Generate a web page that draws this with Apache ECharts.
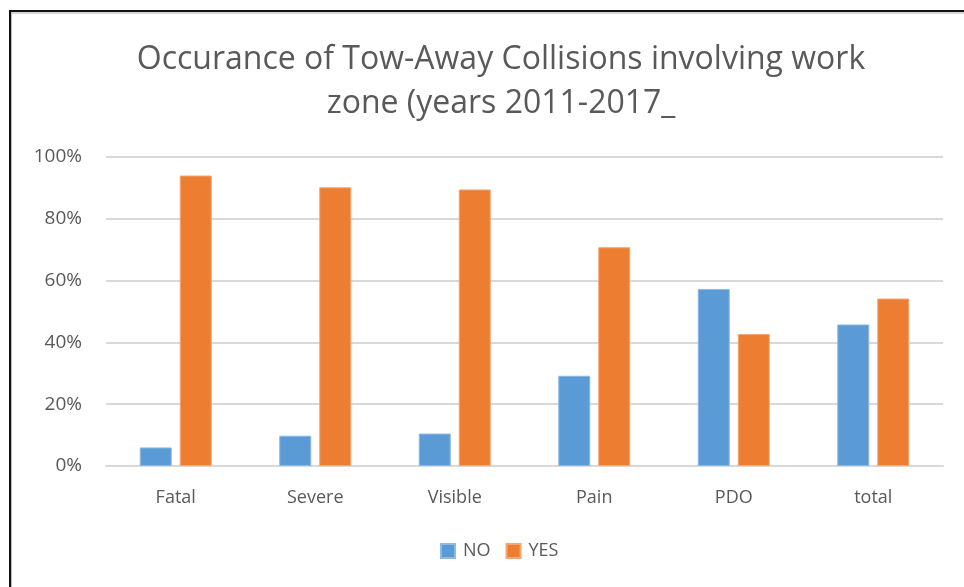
<!DOCTYPE html>
<html>
<head>
<meta charset="utf-8">
<script src="https://cdn.jsdelivr.net/npm/echarts@6/dist/echarts.min.js"></script>
<style>
html,body{margin:0;padding:0;background:#fff;}
#chart{width:964px;height:587px;}
</style>
</head>
<body>
<div id="chart"></div>
<script>
const categories = ['Fatal', 'Severe', 'Visible', 'Pain', 'PDO', 'total'];
const noValues = [6.0, 9.8, 10.5, 29.2, 57.3, 45.8];
const yesValues = [94.0, 90.2, 89.5, 70.8, 42.7, 54.2];
const yTicks = [0, 20, 40, 60, 80, 100];

const FONT = '"Open Sans"';
const GREY = '#595959';

const chart = echarts.init(document.getElementById('chart'));
chart.setOption({
  backgroundColor: '#fff',
  animation: false,
  title: {
    text: 'Occurance of Tow-Away Collisions involving work\nzone (years 2011-2017_',
    left: 496,
    top: 33,
    textAlign: 'center',
    textStyle: { fontFamily: FONT, fontSize: 32, fontWeight: 'normal', color: GREY, lineHeight: 44 }
  },
  legend: {
    data: ['NO', 'YES'],
    bottom: 22,
    left: 435,
    icon: 'rect',
    itemWidth: 14,
    itemHeight: 14,
    itemGap: 15,
    textStyle: { fontFamily: FONT, fontSize: 18, color: GREY, padding: [0, 0, 0, 3] }
  },
  grid: { left: 106, right: 21, top: 157, bottom: 121 },
  xAxis: {
    type: 'category',
    data: categories,
    axisLine: { lineStyle: { color: '#d9d9d9', width: 2 } },
    axisTick: { show: false },
    axisLabel: { fontFamily: FONT, fontSize: 18, color: GREY, margin: 23 }
  },
  yAxis: {
    type: 'value',
    min: yTicks[0],
    max: yTicks[yTicks.length - 1],
    interval: 20,
    axisLine: { show: false },
    axisTick: { show: false },
    splitLine: { lineStyle: { color: '#d9d9d9', width: 2 } },
    axisLabel: { fontFamily: FONT, fontSize: 19, color: GREY, margin: 24, formatter: v => v + '%' }
  },
  series: [
    { name: 'NO', type: 'bar', data: noValues, barWidth: 32, barGap: '25%',
      itemStyle: { color: '#5B9BD5', borderColor: '#8DB9E4', borderWidth: 1 } },
    { name: 'YES', type: 'bar', data: yesValues, barWidth: 32,
      itemStyle: { color: '#ED7D31', borderColor: '#F4A673', borderWidth: 1 } }
  ],
  graphic: [
    { type: 'rect', shape: { x: 10, y: 10, width: 954, height: 2 }, style: { fill: '#111' } },
    { type: 'rect', shape: { x: 10, y: 12, width: 954, height: 2 }, style: { fill: '#d6d6d6' } },
    { type: 'rect', shape: { x: 9, y: 10, width: 2, height: 577 }, style: { fill: '#111' } },
    { type: 'rect', shape: { x: 11, y: 12, width: 1, height: 575 }, style: { fill: '#bbb' } }
  ]
});
</script>
</body>
</html>
